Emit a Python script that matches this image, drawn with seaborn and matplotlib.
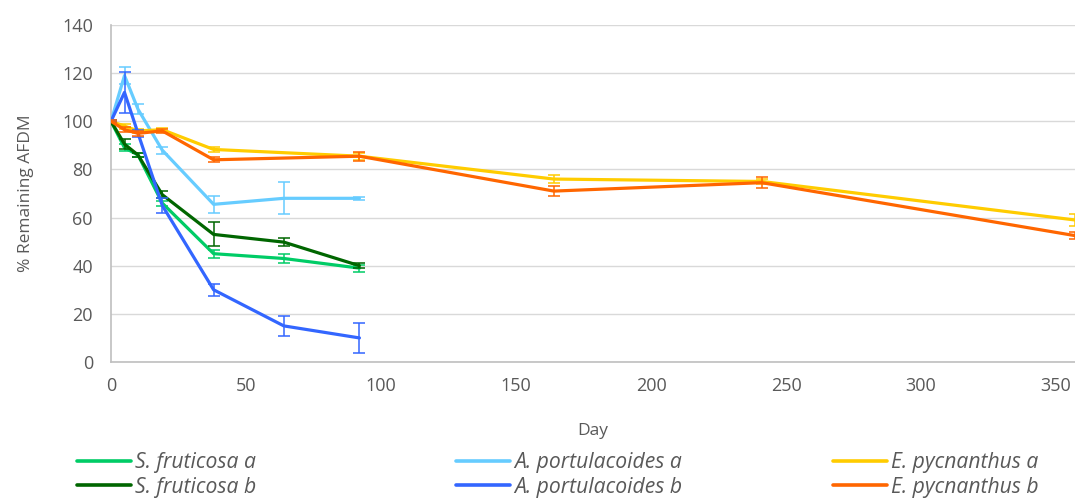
import numpy as np
import pandas as pd
import matplotlib
matplotlib.use("Agg")
import matplotlib.pyplot as plt
from matplotlib.lines import Line2D
import seaborn as sns

# ---- data ----
days_short = [0, 5, 10, 19, 38, 64, 92]
days_long = [0, 5, 10, 19, 38, 92, 164, 241, 357]

sf_a = [100, 89, 86, 66, 45, 43, 39]
sf_a_err = [0.5, 1.5, 1.0, 1.0, 1.6, 1.7, 1.5]
sf_b = [100, 90.5, 86, 69.5, 53, 49.8, 40]
sf_b_err = [0.5, 2.0, 1.0, 1.5, 5.0, 1.8, 1.0]
ap_a = [100, 119, 105, 88, 65.5, 68, 68]
ap_a_err = [0.5, 3.5, 2.0, 1.5, 3.5, 6.7, 0.5]
ap_b = [100, 112, 95, 65, 30, 15, 10]
ap_b_err = [0.5, 8.5, 1.5, 3.0, 2.4, 4.3, 6.2]
ep_a = [100, 98, 96, 96.5, 88.3, 85.5, 76, 75, 59]
ep_a_err = [0.5, 1.0, 1.0, 0.8, 1.0, 1.5, 1.5, 1.2, 2.5]
ep_b = [100, 96.5, 95, 96, 84, 85.5, 71, 74.5, 52.5]
ep_b_err = [0.5, 1.0, 1.0, 1.0, 1.0, 1.8, 2.2, 2.2, 1.5]

series_names = ["S. fruticosa a", "A. portulacoides a", "E. pycnanthus a",
                "S. fruticosa b", "A. portulacoides b", "E. pycnanthus b"]
series_days = [days_short, days_short, days_long, days_short, days_short, days_long]
series_vals = [sf_a, ap_a, ep_a, sf_b, ap_b, ep_b]
series_errs = [sf_a_err, ap_a_err, ep_a_err, sf_b_err, ap_b_err, ep_b_err]
colors = ["#00CC66", "#66CCFF", "#FFCC00", "#006600", "#3366FF", "#FF6600"]

y_ticks = [0, 20, 40, 60, 80, 100, 120, 140]
x_ticks = [0, 50, 100, 150, 200, 250, 300, 350]

rows = []
for name, d, v in zip(series_names, series_days, series_vals):
    for dd, vv in zip(d, v):
        rows.append({"Day": dd, "AFDM": vv, "Series": name})
df = pd.DataFrame(rows)

sns.set_style("white")
plt.rcParams["font.family"] = ["Open Sans", "DejaVu Sans"]

fig = plt.figure(figsize=(10.75, 4.99), dpi=100)
ax = fig.add_axes([111 / 1075, 1 - 362 / 499, 1 - 111 / 1075, (362 - 25) / 499])

palette = dict(zip(series_names, colors))
for i, name in enumerate(series_names):
    sub = df[df["Series"] == name]
    sns.lineplot(data=sub, x="Day", y="AFDM", color=palette[name], linewidth=2.3,
                 estimator=None, legend=False, ax=ax, zorder=3 + i)
    ax.errorbar(series_days[i], series_vals[i], yerr=series_errs[i], fmt="none",
                ecolor=palette[name], elinewidth=1.1, capsize=4.3, capthick=1.1,
                zorder=3 + i, clip_on=True)

ax.set_xlim(0, 357)
ax.set_ylim(0, 140)
ax.set_xticks(x_ticks)
ax.set_yticks(y_ticks)
ax.grid(axis="y", color="#D9D9D9", linewidth=1.0, zorder=0)
ax.grid(axis="x", visible=False)
for s in ["top", "right"]:
    ax.spines[s].set_visible(False)
for s in ["left", "bottom"]:
    ax.spines[s].set_color("#BFBFBF")
    ax.spines[s].set_linewidth(1.2)
ax.tick_params(axis="both", colors="#BFBFBF", labelcolor="#595959", labelsize=13,
               length=5, width=1, direction="out")
ax.tick_params(axis="y", pad=8)
ax.tick_params(axis="x", pad=6)
ax.set_xlabel("Day", fontsize=12.5, color="#595959", labelpad=20)
ax.set_ylabel("% Remaining AFDM", fontsize=12.5, color="#595959", labelpad=20)

# legend: three columns
col_x = [77, 456, 833]
for c in range(3):
    idx = [c, c + 3]
    handles = [Line2D([0], [0], color=colors[j], linewidth=2.6) for j in idx]
    labels = [series_names[j] for j in idx]
    fig.legend(handles, labels, loc="center left",
               bbox_to_anchor=(col_x[c] / 1075, 1 - 475 / 499),
               frameon=False, borderpad=0, borderaxespad=0,
               handlelength=2.55, handletextpad=0.2, labelspacing=0.16,
               prop={"style": "italic", "size": 15.2},
               labelcolor="#595959")

fig.savefig("out.png", dpi=100)
